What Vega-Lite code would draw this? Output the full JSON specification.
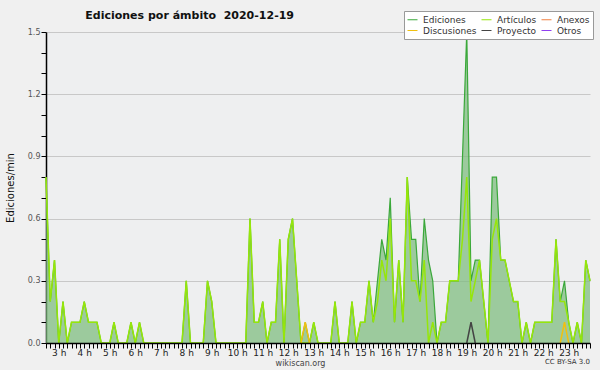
{
  "$schema": "https://vega.github.io/schema/vega-lite/v6.json",
  "width": 544,
  "height": 311,
  "autosize": {"type": "none"},
  "padding": {"left": 46, "top": 32, "right": 10, "bottom": 27},
  "background": "#f0f0f0",
  "config": {"view": {"fill": "#eeeff0", "stroke": null}},
  "title": {"text": "Ediciones por ámbito\u00a0 2020-12-19", "anchor": "start", "dx": 80, "dy": 10, "offset": 0, "font": "DejaVu Sans", "fontSize": 11, "fontWeight": "bold", "color": "#111111"},
  "data": {"values": [
    {"t":150,"Ediciones":0.8,"Artículos":0.8},{"t":160,"Ediciones":0.2,"Artículos":0.2},{"t":170,"Ediciones":0.4,"Artículos":0.4},{"t":180,"Ediciones":0,"Artículos":0},
    {"t":190,"Ediciones":0.2,"Artículos":0.2},{"t":200,"Ediciones":0,"Artículos":0},{"t":210,"Ediciones":0.1,"Artículos":0.1},{"t":220,"Ediciones":0.1,"Artículos":0.1},
    {"t":230,"Ediciones":0.1,"Artículos":0.1},{"t":240,"Ediciones":0.2,"Artículos":0.2},{"t":250,"Ediciones":0.1,"Artículos":0.1},{"t":260,"Ediciones":0.1,"Artículos":0.1},
    {"t":270,"Ediciones":0.1,"Artículos":0.1},{"t":280,"Ediciones":0,"Artículos":0},{"t":290,"Ediciones":0,"Artículos":0},{"t":300,"Ediciones":0,"Artículos":0},
    {"t":310,"Ediciones":0.1,"Artículos":0.1},{"t":320,"Ediciones":0,"Artículos":0},{"t":330,"Ediciones":0,"Artículos":0},{"t":340,"Ediciones":0,"Artículos":0},
    {"t":350,"Ediciones":0.1,"Artículos":0.1},{"t":360,"Ediciones":0,"Artículos":0},{"t":370,"Ediciones":0.1,"Artículos":0.1},{"t":380,"Ediciones":0,"Artículos":0},
    {"t":390,"Ediciones":0,"Artículos":0},{"t":400,"Ediciones":0,"Artículos":0},{"t":410,"Ediciones":0,"Artículos":0},{"t":420,"Ediciones":0,"Artículos":0},
    {"t":430,"Ediciones":0,"Artículos":0},{"t":440,"Ediciones":0,"Artículos":0},{"t":450,"Ediciones":0,"Artículos":0},{"t":460,"Ediciones":0,"Artículos":0},
    {"t":470,"Ediciones":0,"Artículos":0},{"t":480,"Ediciones":0.3,"Artículos":0.3},{"t":490,"Ediciones":0,"Artículos":0},{"t":500,"Ediciones":0,"Artículos":0},
    {"t":510,"Ediciones":0,"Artículos":0},{"t":520,"Ediciones":0,"Artículos":0},{"t":530,"Ediciones":0.3,"Artículos":0.3},{"t":540,"Ediciones":0.2,"Artículos":0.2},
    {"t":550,"Ediciones":0,"Artículos":0},{"t":560,"Ediciones":0,"Artículos":0},{"t":570,"Ediciones":0,"Artículos":0},{"t":580,"Ediciones":0,"Artículos":0},
    {"t":590,"Ediciones":0,"Artículos":0},{"t":600,"Ediciones":0,"Artículos":0},{"t":610,"Ediciones":0,"Artículos":0},{"t":620,"Ediciones":0,"Artículos":0},
    {"t":630,"Ediciones":0.6,"Artículos":0.6},{"t":640,"Ediciones":0.1,"Artículos":0.1},{"t":650,"Ediciones":0.1,"Artículos":0.1},{"t":660,"Ediciones":0.2,"Artículos":0.2},
    {"t":670,"Ediciones":0,"Artículos":0},{"t":680,"Ediciones":0.1,"Artículos":0.1},{"t":690,"Ediciones":0.1,"Artículos":0.1},{"t":700,"Ediciones":0.5,"Artículos":0.5},
    {"t":710,"Ediciones":0,"Artículos":0},{"t":720,"Ediciones":0.5,"Artículos":0.5},{"t":730,"Ediciones":0.6,"Artículos":0.6},{"t":740,"Ediciones":0.3,"Artículos":0.3},
    {"t":750,"Ediciones":0,"Artículos":0,"Discusiones":0},{"t":760,"Ediciones":0.1,"Artículos":0,"Discusiones":0.1},{"t":770,"Ediciones":0,"Artículos":0,"Discusiones":0},{"t":780,"Ediciones":0.1,"Artículos":0.1},
    {"t":790,"Ediciones":0,"Artículos":0},{"t":800,"Ediciones":0,"Artículos":0},{"t":810,"Ediciones":0,"Artículos":0},{"t":820,"Ediciones":0,"Artículos":0},
    {"t":830,"Ediciones":0.2,"Artículos":0.2},{"t":840,"Ediciones":0,"Artículos":0},{"t":850,"Ediciones":0,"Artículos":0},{"t":860,"Ediciones":0,"Artículos":0},
    {"t":870,"Ediciones":0.2,"Artículos":0.2},{"t":880,"Ediciones":0,"Artículos":0},{"t":890,"Ediciones":0.1,"Artículos":0.1},{"t":900,"Ediciones":0.1,"Artículos":0.1},
    {"t":910,"Ediciones":0.3,"Artículos":0.3},{"t":920,"Ediciones":0.1,"Artículos":0.1},{"t":930,"Ediciones":0.3,"Artículos":0.2},{"t":940,"Ediciones":0.5,"Artículos":0.4},
    {"t":950,"Ediciones":0.4,"Artículos":0.3},{"t":960,"Ediciones":0.7,"Artículos":0.6},{"t":970,"Ediciones":0.1,"Artículos":0.1},{"t":980,"Ediciones":0.4,"Artículos":0.4},
    {"t":990,"Ediciones":0.1,"Artículos":0.1},{"t":1000,"Ediciones":0.8,"Artículos":0.8},{"t":1010,"Ediciones":0.5,"Artículos":0.3},{"t":1020,"Ediciones":0.5,"Artículos":0.3},
    {"t":1030,"Ediciones":0.2,"Artículos":0.2},{"t":1040,"Ediciones":0.6,"Artículos":0.4},{"t":1050,"Ediciones":0.4,"Artículos":0},{"t":1060,"Ediciones":0.3,"Artículos":0.1},
    {"t":1070,"Ediciones":0,"Artículos":0},{"t":1080,"Ediciones":0.1,"Artículos":0.1},{"t":1090,"Ediciones":0.1,"Artículos":0.1},{"t":1100,"Ediciones":0.3,"Artículos":0.3},
    {"t":1110,"Ediciones":0.3,"Artículos":0.3},{"t":1120,"Ediciones":0.3,"Artículos":0.3},{"t":1130,"Ediciones":0.9,"Artículos":0.5},{"t":1140,"Ediciones":1.5,"Artículos":0.8,"Proyecto":0},
    {"t":1150,"Ediciones":0.3,"Artículos":0.2,"Proyecto":0.1},{"t":1160,"Ediciones":0.4,"Artículos":0.3,"Proyecto":0},{"t":1170,"Ediciones":0.4,"Artículos":0.4},{"t":1180,"Ediciones":0.2,"Artículos":0.2},
    {"t":1190,"Ediciones":0,"Artículos":0},{"t":1200,"Ediciones":0.8,"Artículos":0.5},{"t":1210,"Ediciones":0.8,"Artículos":0.6},{"t":1220,"Ediciones":0.4,"Artículos":0.4},
    {"t":1230,"Ediciones":0.4,"Artículos":0.4},{"t":1240,"Ediciones":0.3,"Artículos":0.3},{"t":1250,"Ediciones":0.2,"Artículos":0.2},{"t":1260,"Ediciones":0.2,"Artículos":0.2},
    {"t":1270,"Ediciones":0,"Artículos":0},{"t":1280,"Ediciones":0.1,"Artículos":0.1},{"t":1290,"Ediciones":0,"Artículos":0},{"t":1300,"Ediciones":0.1,"Artículos":0.1},
    {"t":1310,"Ediciones":0.1,"Artículos":0.1},{"t":1320,"Ediciones":0.1,"Artículos":0.1},{"t":1330,"Ediciones":0.1,"Artículos":0.1},{"t":1340,"Ediciones":0.1,"Artículos":0.1},
    {"t":1350,"Ediciones":0.5,"Artículos":0.5},{"t":1360,"Ediciones":0.2,"Artículos":0.2,"Discusiones":0},{"t":1370,"Ediciones":0.3,"Artículos":0.2,"Discusiones":0.1},{"t":1380,"Ediciones":0.1,"Artículos":0.1,"Discusiones":0},
    {"t":1390,"Ediciones":0,"Artículos":0},{"t":1400,"Ediciones":0.1,"Artículos":0.1},{"t":1410,"Ediciones":0,"Artículos":0},{"t":1420,"Ediciones":0.4,"Artículos":0.4},
    {"t":1430,"Ediciones":0.3,"Artículos":0.3}
  ]},
  "layer": [
    {
      "transform": [{"fold": ["Ediciones"], "as": ["serie", "v"]}],
      "mark": {"type": "area", "color": "#7dbb7d", "opacity": 0.72},
      "encoding": {
        "x": {"field": "t", "type": "quantitative",
          "scale": {"domain": [150, 1430], "nice": false, "zero": false},
          "axis": {"title": "wikiscan.org", "titleFont": "DejaVu Sans", "titleFontSize": 8, "titleFontWeight": "normal", "titleColor": "#444444", "titleX": 254, "titleY": 16,
            "tickCount": 128, "labelExpr": "datum.value % 60 === 0 ? (datum.value / 60) + ' h' : ''",
            "labelOverlap": false, "labelFlush": false, "labelBound": false,
            "labelFont": "DejaVu Sans", "labelFontSize": 9, "labelColor": "#222222", "labelPadding": 0,
            "tickSize": 5, "tickColor": "#000000", "domainColor": "#000000", "domainWidth": 1.5, "grid": false, "zindex": 1}},
        "y": {"field": "v", "type": "quantitative",
          "scale": {"domain": [0, 1.5], "nice": false},
          "axis": {"title": "Ediciones/min", "titleFont": "DejaVu Sans", "titleFontSize": 10, "titleFontWeight": "normal", "titleColor": "#111111", "titlePadding": 12,
            "tickCount": 15, "labelExpr": "round(datum.value * 10) % 3 === 0 ? format(datum.value, '.1f') : ''",
            "labelOverlap": false, "labelFont": "DejaVu Sans", "labelFontSize": 8, "labelColor": "#555555", "labelPadding": 1,
            "tickSize": 5, "tickColor": "#000000", "domainColor": "#000000", "domainWidth": 1.5,
            "gridColor": "#c8c8c8", "gridOpacity": {"condition": {"test": "round(datum.value * 10) % 3 === 0", "value": 1}, "value": 0}}}
      }
    },
    {
      "transform": [{"fold": ["Ediciones"], "as": ["serie", "v"]}],
      "mark": {"type": "line", "strokeWidth": 1.2},
      "encoding": {
        "x": {"field": "t", "type": "quantitative"},
        "y": {"field": "v", "type": "quantitative"},
        "color": {"field": "serie", "type": "nominal",
        "scale": {"domain": ["Ediciones", "Artículos", "Anexos", "Discusiones", "Proyecto", "Otros"], "range": ["#3aa83a", "#96e60a", "#f08040", "#f0c010", "#444444", "#9040f0"]},
        "legend": {"orient": "none", "legendX": 358, "legendY": -21, "direction": "horizontal", "columns": 3, "title": null,
          "symbolType": "stroke", "symbolSize": 100, "symbolStrokeWidth": 1, "labelFont": "DejaVu Sans", "labelFontSize": 9, "labelColor": "#333333",
          "labelOffset": 5, "columnPadding": 2, "rowPadding": 0, "padding": 3, "fillColor": "#ffffff", "strokeColor": "#999999", "zindex": 1,
          "encode": {"symbols": {"update": {"stroke": {"signal": "datum.value === 'Ediciones' ? '#88cc88' : datum.value === 'Artículos' ? '#ccee66' : datum.value === 'Anexos' ? '#ee8855' : datum.value === 'Discusiones' ? '#f0d040' : datum.value === 'Proyecto' ? '#555555' : '#9966ee'"}}}}}}}
    },
    {
      "transform": [{"fold": ["Artículos", "Discusiones", "Proyecto"], "as": ["serie", "v"]}],
      "mark": {"type": "line", "strokeWidth": 1.5},
      "encoding": {
        "x": {"field": "t", "type": "quantitative"},
        "y": {"field": "v", "type": "quantitative"},
        "color": {"field": "serie", "type": "nominal",
        "scale": {"domain": ["Ediciones", "Artículos", "Anexos", "Discusiones", "Proyecto", "Otros"], "range": ["#3aa83a", "#96e60a", "#f08040", "#f0c010", "#444444", "#9040f0"]}}}
    },
    {
      "data": {"values": [{"c": "CC BY-SA 3.0"}]},
      "mark": {"type": "text", "clip": false, "align": "right", "baseline": "middle", "dy": 19, "font": "DejaVu Sans", "fontSize": 7, "color": "#333333"},
      "encoding": {
        "x": {"datum": 1430, "type": "quantitative"},
        "y": {"datum": 0, "type": "quantitative"},
        "text": {"field": "c", "type": "nominal"}}
    }
  ]
}
